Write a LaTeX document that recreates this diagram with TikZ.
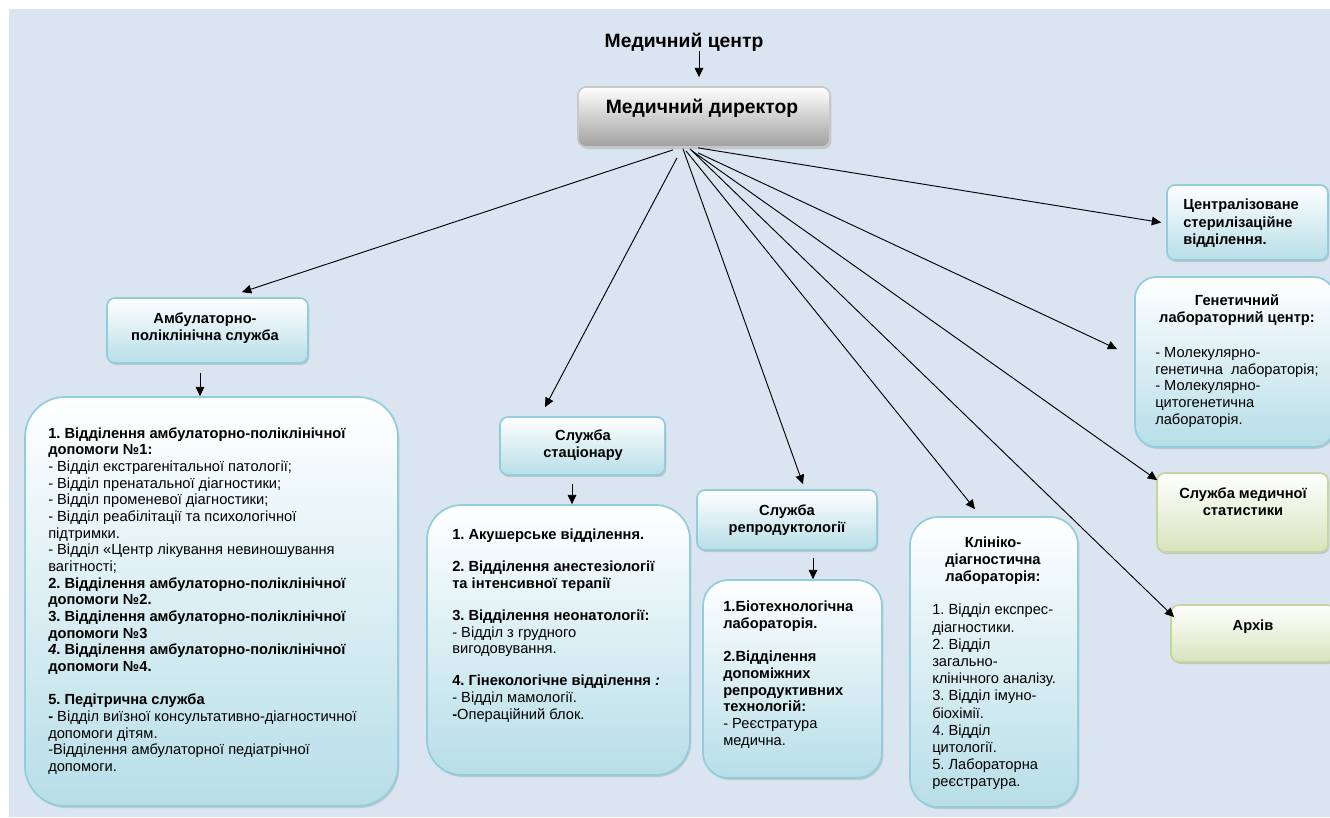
\documentclass[tikz,border=0pt]{standalone}
\usepackage{fontspec}
\setmainfont{Liberation Sans}
\usetikzlibrary{arrows.meta,calc,shadows}
\frenchspacing
\definecolor{pagebg}{HTML}{DBE5F1}
\definecolor{boxedge}{HTML}{92CDDC}
\definecolor{boxfill}{HTML}{B7DEE8}
\definecolor{greenedge}{HTML}{C3D69B}
\definecolor{greenfill}{HTML}{D7E4BD}
\definecolor{grayedge}{HTML}{C8C8C8}
\definecolor{grayfill}{HTML}{A0A0A0}
\tikzset{
  unitbox/.style={draw=boxedge, line width=1.3pt, rounded corners=6pt, top color=white, bottom color=boxfill,
    drop shadow={shadow xshift=1pt, shadow yshift=-1.5pt, opacity=0.3}, inner sep=0pt},
  listbox/.style={unitbox, rounded corners=#1},
  greenbox/.style={unitbox, draw=greenedge, bottom color=greenfill},
  dirbox/.style={unitbox, draw=grayedge, bottom color=grayfill},
  boxtext/.style={inner sep=0pt, align=left, font=\fontsize{11}{12.5}\selectfont},
  headtext/.style={inner sep=0pt, align=center, font=\fontsize{11}{12.75}\selectfont\bfseries},
  titletext/.style={inner sep=0pt, align=center, font=\fontsize{14.5}{16}\selectfont\bfseries},
  fanarrow/.style={-{Triangle[length=7pt,width=6.5pt]}, line width=0.7pt}
}

\begin{document}
\begin{tikzpicture}[x=0.75pt,y=-0.75pt]
\useasboundingbox (0,0) rectangle (1330,817);
\fill[pagebg] (9,9) rectangle (1330,817);

% top of the chart
\node[titletext] (centre) at (684,42) {Медичний центр};
\node[dirbox, minimum width=189pt, minimum height=45pt] (director) at (704,117) {};
\node[titletext] (director-txt) at (702,108) {Медичний директор};

% services
\node[unitbox, minimum width=150.75pt, minimum height=48.75pt] (ambul) at (207.5,330.5) {};
\node[headtext, anchor=north] (ambul-txt) at (205,312) {Амбулаторно-\\поліклінічна служба};
\node[listbox=30pt, minimum width=279.75pt, minimum height=306.75pt] (ambul-list) at (211.5,601.5) {};
\node[boxtext, anchor=north west] (ambul-list-txt) at (48,427) {%
\textbf{1. Відділення амбулаторно-поліклінічної}\\
\textbf{допомоги №1:}\\
- Відділ екстрагенітальної патології;\\
- Відділ пренатальної діагностики;\\
- Відділ променевої діагностики;\\
- Відділ реабілітації та психологічної\\
підтримки.\\
- Відділ «Центр лікування невиношування\\
вагітності;\\
\textbf{2. Відділення амбулаторно-поліклінічної}\\
\textbf{допомоги №2.}\\
\textbf{3. Відділення амбулаторно-поліклінічної}\\
\textbf{допомоги №3}\\
\textbf{\textit{4}. Відділення амбулаторно-поліклінічної}\\
\textbf{допомоги №4.}\\[12.5pt]
\textbf{5. Педітрична служба}\\
\textbf{-} Відділ виїзної консультативно-діагностичної\\
допомоги дітям.\\
-Відділення амбулаторної педіатрічної\\
допомоги.};

\node[unitbox, minimum width=123.75pt, minimum height=43.5pt] (stac) at (582.5,446) {};
\node[headtext, anchor=north] (stac-txt) at (583,429) {Служба\\стаціонару};
\node[listbox=26pt, minimum width=197.25pt, minimum height=202.5pt] (stac-list) at (558.5,640) {};
\node[boxtext, anchor=north west] (stac-list-txt) at (452,529) {%
\textbf{1. Акушерське відділення.}\\[11.5pt]
\textbf{2. Відділення анестезіології}\\
\textbf{та інтенсивної терапії}\\[11.5pt]
\textbf{3. Відділення неонатології:}\\
- Відділ з грудного\\
вигодовування.\\[11.5pt]
\textbf{4. Гінекологічне відділення \textit{:}}\\
- Відділ мамології.\\
\textbf{-}Операційний блок.};

\node[unitbox, minimum width=135pt, minimum height=45pt] (repro) at (787,520) {};
\node[headtext, anchor=north] (repro-txt) at (787,504) {Служба\\репродуктології};
\node[listbox=19pt, minimum width=134.25pt, minimum height=148.5pt] (repro-list) at (792.5,679) {};
\node[boxtext, anchor=north west] (repro-list-txt) at (723,601) {%
\textbf{1.Біотехнологічна}\\
\textbf{лабораторія.}\\[12.5pt]
\textbf{2.Відділення}\\
\textbf{допоміжних}\\
\textbf{репродуктивних}\\
\textbf{технологій:}\\
- Реєстратура\\
медична.};

\node[listbox=21pt, minimum width=126pt, minimum height=217.5pt] (klin) at (994,662) {};
\node[headtext, anchor=north] (klin-txt) at (993,537) {Клініко-\\діагностична\\лабораторія:};
\node[boxtext, font=\fontsize{11}{12.9}\selectfont, anchor=north west] (klin-list-txt) at (932,604) {%
1. Відділ експрес-\\
діагностики.\\
2. Відділ\\
загально-\\
клінічного аналізу.\\
3. Відділ імуно-\\
біохімії.\\
4. Відділ\\
цитології.\\
5. Лабораторна\\
реєстратура.};

% right column
\node[unitbox, minimum width=120.75pt, minimum height=56.25pt] (central) at (1247.5,222.5) {};
\node[headtext, font=\fontsize{11}{13.1}\selectfont\bfseries, align=left, anchor=north west] (central-txt) at (1183,199) {Централізоване\\стерилізаційне\\відділення.};
\node[listbox=16pt, minimum width=150pt, minimum height=127.5pt] (gen) at (1235,362) {};
\node[headtext, anchor=north] (gen-txt) at (1237,294) {Генетичний\\лабораторний центр:};
\node[boxtext, anchor=north west] (gen-list-txt) at (1155,347) {%
- Молекулярно-\\
генетична~ лабораторія;\\
- Молекулярно-\\
цитогенетична\\
лабораторія.};
\node[greenbox, minimum width=128.25pt, minimum height=59.25pt] (stat) at (1242.5,512.5) {};
\node[headtext, anchor=north] (stat-txt) at (1243,487) {Служба медичної\\статистики};
\node[greenbox, minimum width=123pt, minimum height=42.75pt] (arch) at (1253,633.5) {};
\node[headtext] (arch-txt) at (1253,627) {Архів};

% connectors
\draw[fanarrow] ($(centre.south)+(15,0)$) -- ($(director.north)+(-5,-9)$);
\draw[fanarrow] ($(director.south)+(-31,2)$) -- ($(ambul.north)+(34.5,-5)$);
\draw[fanarrow] ($(director.south)+(-27,10)$) -- ($(stac.north)+(-37.5,-9)$);
\draw[fanarrow] ($(director.south)+(-21,1)$) -- ($(repro.north)+(16,-5)$);
\draw[fanarrow] ($(director.south)+(-18,3)$) -- ($(klin.north)+(-19,-7)$);
\draw[fanarrow] ($(director.south)+(-14,1)$) -- ($(arch.north west)+(4,13)$);
\draw[fanarrow] ($(director.south)+(-12,3)$) -- ($(stat.north west)+(1,8)$);
\draw[fanarrow] ($(director.south)+(-6,5)$) -- ($(gen.north west)+(-17,73)$);
\draw[fanarrow] ($(director.south)+(-6,0)$) -- ($(central.west)+(-5,0)$);
\draw[fanarrow] ($(ambul.south)+(-7.5,9)$) -- ($(ambul-list.north)+(-11.5,0)$);
\draw[fanarrow] ($(stac.south)+(-10.5,8)$) -- ($(stac-list.north)+(13.5,0)$);
\draw[fanarrow] ($(repro.south)+(26,7)$) -- ($(repro-list.north)+(20.5,0)$);
\end{tikzpicture}
\end{document}
